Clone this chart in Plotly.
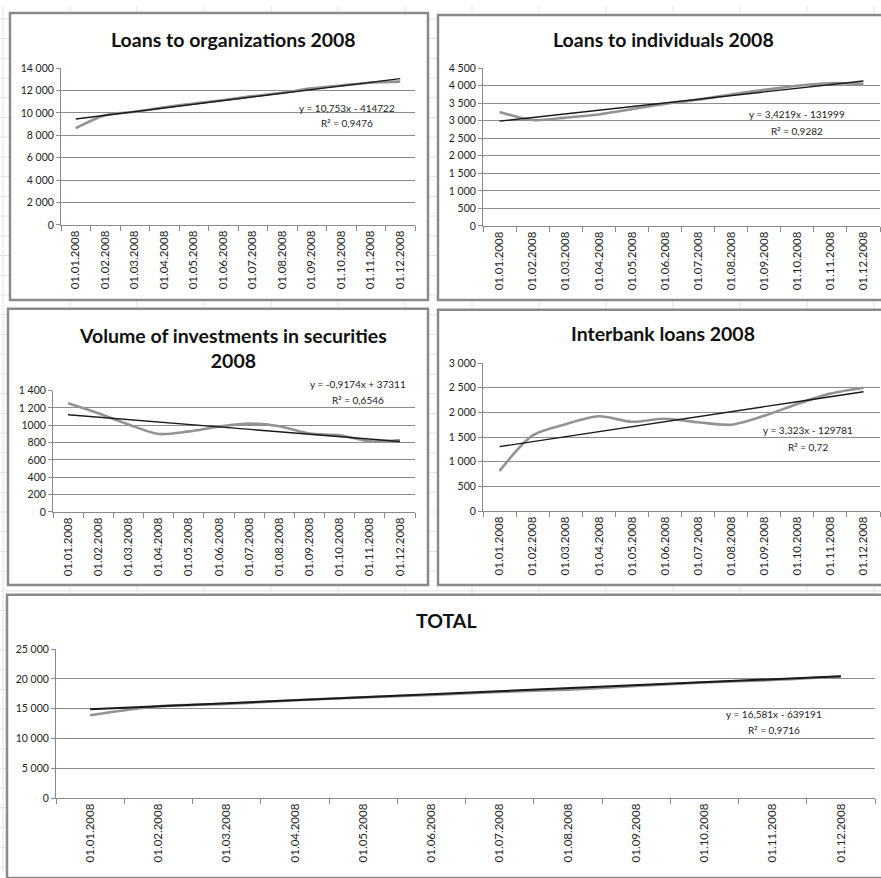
import datetime as dt
import plotly.graph_objects as go

W, H = 881, 878

# ---------------- data ----------------
dates = ["01.01.2008", "01.02.2008", "01.03.2008", "01.04.2008", "01.05.2008", "01.06.2008",
         "01.07.2008", "01.08.2008", "01.09.2008", "01.10.2008", "01.11.2008", "01.12.2008"]

titles = ["Loans to organizations 2008", "Loans to individuals 2008",
          "Volume of investments in securities<br>2008", "Interbank loans 2008", "TOTAL"]

loans_org = [8650, 9800, 10100, 10500, 10850, 11150, 11500, 11800, 12200, 12450, 12700, 12800]
loans_ind = [3250, 3020, 3090, 3180, 3330, 3480, 3600, 3750, 3880, 4000, 4070, 4050]
securities = [1255, 1140, 1010, 900, 930, 985, 1020, 990, 905, 885, 815, 830]
interbank = [813, 1533, 1760, 1920, 1810, 1870, 1800, 1750, 1930, 2170, 2380, 2500]
total = [13900, 15400, 15800, 16400, 16900, 17300, 17800, 18200, 18800, 19400, 19800, 20400]

# trendline coefficients (as printed on the chart)
trend_slope = [10.753, 3.4219, -0.9174, 3.323, 16.581]
trend_intercept = [-414722, -131999, 37311, -129781, -639191]
eq_text = ["y = 10,753x - 414722", "y = 3,4219x - 131999", "y = -0,9174x + 37311",
           "y = 3,323x - 129781", "y = 16,581x - 639191"]
r2_text = ["R² = 0,9476", "R² = 0,9282", "R² = 0,6546", "R² = 0,72", "R² = 0,9716"]

yticks = [
    [0, 2000, 4000, 6000, 8000, 10000, 12000, 14000],
    [0, 500, 1000, 1500, 2000, 2500, 3000, 3500, 4000, 4500],
    [0, 200, 400, 600, 800, 1000, 1200, 1400],
    [0, 500, 1000, 1500, 2000, 2500, 3000],
    [0, 5000, 10000, 15000, 20000, 25000],
]
ytick_labels = [
    ["0", "2 000", "4 000", "6 000", "8 000", "10 000", "12 000", "14 000"],
    ["0", "500", "1 000", "1 500", "2 000", "2 500", "3 000", "3 500", "4 000", "4 500"],
    ["0", "200", "400", "600", "800", "1000", "1 200", "1 400"],
    ["0", "500", "1 000", "1 500", "2 000", "2 500", "3 000"],
    ["0", "5 000", "10 000", "15 000", "20 000", "25 000"],
]
series = [loans_org, loans_ind, securities, interbank, total]

# ---------------- layout geometry (pixels) ----------------
def px(x):
    return x / W

def py(y):
    return 1 - y / H

# plot areas: (x0, x1, ytop, ybottom)
areas = [(61, 415, 63, 222), (483, 880, 63, 223), (53, 415, 390, 513),
         (483, 880, 362, 512), (56, 875, 652, 803)]
# panel frames
frames = [(10, 428, 7, 298), (438, 884, 9, 298), (8, 428, 307, 587),
          (438, 884, 308, 587), (7, 884, 597, 884)]
title_pos = [(233, 34), (663, 34), (233, 347), (663, 332), (447, 623)]
eq_pos = [(347, 103, 119), (797, 110, 127), (358, 383, 399), (808, 430, 447), (774, 718, 734)]

serial = [(dt.date(2008, m, 1) - dt.date(1899, 12, 30)).days for m in range(1, 13)]

FONT = "Lato, Open Sans, sans-serif"
GRAY = "#939393"
fig = go.Figure()
shapes = []

# spreadsheet background grid
for gx in range(3, 900, 67):
    shapes.append(dict(type="line", xref="paper", yref="paper", x0=px(gx), x1=px(gx), y0=0, y1=1,
                       line=dict(color="#e3e3e3", width=1), layer="below"))
for gy in range(13, 900, 20):
    shapes.append(dict(type="line", xref="paper", yref="paper", x0=0, x1=1, y0=py(gy), y1=py(gy),
                       line=dict(color="#e3e3e3", width=1), layer="below"))
for (x0, x1, y0, y1) in frames:
    shapes.append(dict(type="rect", xref="paper", yref="paper", x0=px(x0), x1=px(x1), y0=py(y1), y1=py(y0),
                       fillcolor="white", line=dict(color="#8a8a8a", width=2.5), layer="below"))

annotations = []
for i in range(5):
    ax = "" if i == 0 else str(i + 1)
    xa, ya = "x" + ax, "y" + ax
    trend = [trend_slope[i] * s + trend_intercept[i] for s in serial]
    fig.add_trace(go.Scatter(x=dates, y=series[i], mode="lines", xaxis=xa, yaxis=ya,
                             line=dict(color=GRAY, width=2.6, shape="spline", smoothing=0.8),
                             showlegend=False, hoverinfo="skip"))
    fig.add_trace(go.Scatter(x=dates, y=trend, mode="lines", xaxis=xa, yaxis=ya,
                             line=dict(color="#1a1a1a", width=1.4 if i < 4 else 2),
                             showlegend=False, hoverinfo="skip"))
    x0, x1, yt, yb = areas[i]
    fig.layout["xaxis" + ax] = dict(
        domain=[px(x0), px(x1)], anchor=ya, type="category", range=[-0.5, 11.5],
        tickson="boundaries", ticks="outside", ticklen=5, tickcolor="#8a8a8a",
        showline=True, linecolor="#8a8a8a", linewidth=1, showgrid=False,
        tickangle=-90, tickfont=dict(family=FONT, size=11.5, color="#222"), fixedrange=True)
    fig.layout["yaxis" + ax] = dict(
        domain=[py(yb), py(yt)], anchor=xa, range=[0, yticks[i][-1]],
        tickvals=yticks[i], ticktext=ytick_labels[i], ticks="outside", ticklen=4,
        tickcolor="#8a8a8a", showline=True, linecolor="#8a8a8a", linewidth=1,
        showgrid=True, gridcolor="#8c8c8c", gridwidth=1, zeroline=False,
        tickfont=dict(family=FONT, size=10.5, color="#222"), fixedrange=True)
    tx, ty = title_pos[i]
    annotations.append(dict(text="<b>" + titles[i] + "</b>", x=px(tx), y=py(ty), xref="paper", yref="paper",
                            showarrow=False, xanchor="center", yanchor="middle",
                            font=dict(family=FONT, size=19.5, color="#111")))
    ex, ey1, ey2 = eq_pos[i]
    annotations.append(dict(text=eq_text[i], x=px(ex), y=py(ey1), xref="paper", yref="paper",
                            showarrow=False, xanchor="center", yanchor="middle",
                            font=dict(family=FONT, size=10, color="#222")))
    annotations.append(dict(text=r2_text[i], x=px(ex), y=py(ey2), xref="paper", yref="paper",
                            showarrow=False, xanchor="center", yanchor="middle",
                            font=dict(family=FONT, size=10, color="#222")))

fig.update_layout(width=W, height=H, margin=dict(l=0, r=0, t=0, b=0),
                  paper_bgcolor="white", plot_bgcolor="rgba(0,0,0,0)",
                  shapes=shapes, annotations=annotations, showlegend=False)

fig.write_html("out.html", config={"displayModeBar": False, "staticPlot": True},
               post_script="document.body.style.margin='0';document.body.style.overflow='hidden';")
